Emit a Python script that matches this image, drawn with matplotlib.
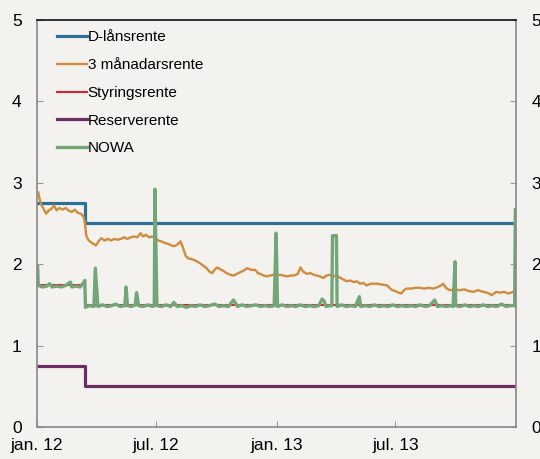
import pandas as pd
import numpy as np
import matplotlib
matplotlib.use("Agg")
import matplotlib.pyplot as plt

plt.rcParams['font.family'] = ['Liberation Sans', 'DejaVu Sans']

# Policy rates (step changes)
step_dates = ['2012-01-01', '2012-03-15', '2014-01-01']
d_laan = [2.75, 2.50, 2.50]
styring = [1.75, 1.50, 1.50]
reserve = [0.75, 0.50, 0.50]

# 3-month rate
nibor_dates = [
    '2012-01-03', '2012-01-05', '2012-01-07', '2012-01-11', '2012-01-15', '2012-01-19',
    '2012-01-23', '2012-01-27', '2012-01-31', '2012-02-04', '2012-02-09', '2012-02-14',
    '2012-02-18', '2012-02-23', '2012-02-28', '2012-03-03', '2012-03-08', '2012-03-12',
    '2012-03-14', '2012-03-16', '2012-03-19', '2012-03-23', '2012-03-27', '2012-03-31',
    '2012-04-04', '2012-04-08', '2012-04-13', '2012-04-18', '2012-04-23', '2012-04-28',
    '2012-05-03', '2012-05-08', '2012-05-13', '2012-05-18', '2012-05-23', '2012-05-28',
    '2012-06-02', '2012-06-07', '2012-06-11', '2012-06-15', '2012-06-20', '2012-06-25',
    '2012-06-29', '2012-07-04', '2012-07-09', '2012-07-14', '2012-07-19', '2012-07-24',
    '2012-07-28', '2012-08-02', '2012-08-07', '2012-08-11', '2012-08-15', '2012-08-19',
    '2012-08-25', '2012-08-31', '2012-09-06', '2012-09-11', '2012-09-16', '2012-09-20',
    '2012-09-24', '2012-09-28', '2012-10-02', '2012-10-06', '2012-10-11', '2012-10-16',
    '2012-10-22', '2012-10-27', '2012-11-01', '2012-11-06', '2012-11-11', '2012-11-17',
    '2012-11-23', '2012-11-29', '2012-12-03', '2012-12-07', '2012-12-12', '2012-12-17',
    '2012-12-22', '2012-12-27', '2013-01-01', '2013-01-06', '2013-01-11', '2013-01-17',
    '2013-01-22', '2013-01-27', '2013-02-02', '2013-02-06', '2013-02-10', '2013-02-16',
    '2013-02-21', '2013-02-26', '2013-03-03', '2013-03-08', '2013-03-13', '2013-03-18',
    '2013-03-23', '2013-03-28', '2013-04-03', '2013-04-08', '2013-04-13', '2013-04-18',
    '2013-04-23', '2013-04-28', '2013-05-03', '2013-05-08', '2013-05-13', '2013-05-18',
    '2013-05-25', '2013-06-03', '2013-06-10', '2013-06-18', '2013-06-22', '2013-06-26',
    '2013-07-01', '2013-07-06', '2013-07-10', '2013-07-14', '2013-07-18', '2013-07-25',
    '2013-08-01', '2013-08-07', '2013-08-14', '2013-08-21', '2013-08-28', '2013-09-04',
    '2013-09-09', '2013-09-12', '2013-09-16', '2013-09-22', '2013-09-30', '2013-10-07',
    '2013-10-14', '2013-10-21', '2013-10-28', '2013-11-04', '2013-11-12', '2013-11-18',
    '2013-11-25', '2013-12-02', '2013-12-07', '2013-12-14', '2013-12-20', '2013-12-25',
    '2013-12-31']
nibor = [
    2.88, 2.80, 2.74, 2.68, 2.62, 2.66, 2.68, 2.72, 2.66, 2.69, 2.67, 2.69,
    2.66, 2.64, 2.67, 2.63, 2.62, 2.58, 2.52, 2.36, 2.30, 2.27, 2.25, 2.23,
    2.28, 2.32, 2.29, 2.31, 2.29, 2.31, 2.30, 2.31, 2.33, 2.31, 2.33, 2.34,
    2.33, 2.38, 2.34, 2.36, 2.33, 2.34, 2.32, 2.29, 2.28, 2.26, 2.25, 2.23,
    2.22, 2.24, 2.28, 2.20, 2.10, 2.07, 2.06, 2.04, 2.01, 1.98, 1.95, 1.91,
    1.89, 1.93, 1.96, 1.94, 1.92, 1.89, 1.87, 1.86, 1.88, 1.90, 1.92, 1.95,
    1.93, 1.93, 1.89, 1.88, 1.86, 1.85, 1.86, 1.87, 1.86, 1.87, 1.86, 1.85,
    1.86, 1.86, 1.88, 1.96, 1.91, 1.88, 1.89, 1.87, 1.86, 1.85, 1.83, 1.86,
    1.87, 1.85, 1.86, 1.83, 1.81, 1.79, 1.80, 1.78, 1.79, 1.76, 1.77, 1.74,
    1.76, 1.76, 1.75, 1.74, 1.71, 1.68, 1.67, 1.65, 1.64, 1.68, 1.70, 1.70,
    1.71, 1.71, 1.70, 1.71, 1.70, 1.72, 1.74, 1.76, 1.71, 1.68, 1.69, 1.68,
    1.69, 1.67, 1.66, 1.68, 1.66, 1.65, 1.62, 1.66, 1.65, 1.66, 1.64, 1.65,
    1.67]

# NOWA overnight rate
nowa_dates = [
    '2012-01-02', '2012-01-03', '2012-01-09', '2012-01-16', '2012-01-20', '2012-01-24',
    '2012-01-31', '2012-02-07', '2012-02-14', '2012-02-21', '2012-02-23', '2012-03-01',
    '2012-03-07', '2012-03-12', '2012-03-14', '2012-03-15', '2012-03-21', '2012-03-28',
    '2012-03-30', '2012-04-03', '2012-04-10', '2012-04-17', '2012-04-24', '2012-04-30',
    '2012-05-07', '2012-05-14', '2012-05-16', '2012-05-18', '2012-05-24', '2012-05-30',
    '2012-06-01', '2012-06-04', '2012-06-11', '2012-06-18', '2012-06-25', '2012-06-28',
    '2012-06-29', '2012-07-02', '2012-07-09', '2012-07-16', '2012-07-23', '2012-07-28',
    '2012-08-02', '2012-08-09', '2012-08-16', '2012-08-23', '2012-08-30', '2012-09-06',
    '2012-09-13', '2012-09-20', '2012-09-28', '2012-10-05', '2012-10-12', '2012-10-19',
    '2012-10-27', '2012-11-02', '2012-11-09', '2012-11-16', '2012-11-23', '2012-11-30',
    '2012-12-07', '2012-12-14', '2012-12-21', '2012-12-28', '2012-12-31', '2013-01-02',
    '2013-01-09', '2013-01-16', '2013-01-23', '2013-01-30', '2013-02-06', '2013-02-13',
    '2013-02-20', '2013-02-27', '2013-03-06', '2013-03-11', '2013-03-14', '2013-03-17',
    '2013-03-24', '2013-03-26', '2013-03-27', '2013-04-02', '2013-04-03', '2013-04-10',
    '2013-04-17', '2013-04-24', '2013-05-01', '2013-05-07', '2013-05-09', '2013-05-16',
    '2013-05-23', '2013-05-30', '2013-06-06', '2013-06-13', '2013-06-20', '2013-06-27',
    '2013-07-04', '2013-07-11', '2013-07-18', '2013-07-25', '2013-08-01', '2013-08-08',
    '2013-08-15', '2013-08-22', '2013-08-30', '2013-09-03', '2013-09-10', '2013-09-17',
    '2013-09-24', '2013-09-27', '2013-09-30', '2013-10-01', '2013-10-08', '2013-10-15',
    '2013-10-22', '2013-10-29', '2013-11-05', '2013-11-12', '2013-11-19', '2013-11-26',
    '2013-12-03', '2013-12-10', '2013-12-17', '2013-12-24', '2013-12-30', '2013-12-31']
nowa = [
    1.97, 1.74, 1.72, 1.73, 1.76, 1.72, 1.73, 1.72, 1.74, 1.78, 1.72, 1.73,
    1.72, 1.77, 1.80, 1.47, 1.49, 1.48, 1.95, 1.48, 1.50, 1.48, 1.49, 1.51,
    1.48, 1.49, 1.72, 1.49, 1.48, 1.50, 1.65, 1.49, 1.48, 1.50, 1.48, 1.49,
    2.92, 1.49, 1.48, 1.50, 1.48, 1.53, 1.48, 1.49, 1.47, 1.49, 1.48, 1.50,
    1.48, 1.49, 1.51, 1.48, 1.49, 1.48, 1.56, 1.48, 1.50, 1.48, 1.49, 1.50,
    1.48, 1.49, 1.48, 1.49, 2.38, 1.48, 1.50, 1.48, 1.49, 1.48, 1.50, 1.48,
    1.49, 1.48, 1.49, 1.57, 1.55, 1.48, 1.49, 1.49, 2.35, 2.35, 1.48, 1.50,
    1.48, 1.49, 1.48, 1.60, 1.48, 1.49, 1.48, 1.50, 1.48, 1.49, 1.48, 1.50,
    1.48, 1.49, 1.48, 1.49, 1.48, 1.50, 1.48, 1.49, 1.56, 1.48, 1.49, 1.48,
    1.49, 1.48, 2.03, 1.49, 1.48, 1.50, 1.48, 1.49, 1.48, 1.50, 1.48, 1.49,
    1.48, 1.51, 1.48, 1.49, 1.49, 2.67]

bg = '#f4f2ee'
fig = plt.figure(figsize=(5.4, 4.59), dpi=100, facecolor=bg)
ax = fig.add_axes([0.0685, 0.0697, 0.887, 0.887], facecolor=bg)

sd = pd.to_datetime(step_dates)
ax.plot(sd, d_laan, drawstyle='steps-post', color='#2f6f96', lw=2.3, label='D-lånsrente')
ax.plot(pd.to_datetime(nibor_dates), nibor, color='#d18b3d', lw=1.7, label='3 månadarsrente')
ax.plot(sd, styring, drawstyle='steps-post', color='#d7262f', lw=1.5, label='Styringsrente')
ax.plot(sd, reserve, drawstyle='steps-post', color='#6c2d62', lw=2.3, label='Reserverente')
ax.plot(pd.to_datetime(nowa_dates), nowa, color='#72a679', lw=2.4, label='NOWA')

ax.set_xlim(pd.Timestamp('2012-01-01'), pd.Timestamp('2014-01-01'))
ax.set_ylim(0, 5)
ax.set_yticks([0, 1, 2, 3, 4, 5])
xt = pd.to_datetime(['2012-01-01', '2012-07-01', '2013-01-01', '2013-07-01'])
ax.set_xticks(xt)
ax.set_xticklabels(['jan. 12', 'jul. 12', 'jan. 13', 'jul. 13'])

ax.tick_params(axis='y', direction='in', length=4, color='#999999', labelsize=12.5,
               left=True, right=True, labelleft=True, labelright=True, pad=11)
ax.tick_params(axis='x', direction='in', length=4, color='#999999', labelsize=12.5, pad=8)

for side in ['left', 'right', 'bottom']:
    ax.spines[side].set_color('#888888')
    ax.spines[side].set_linewidth(1.2)
ax.spines['top'].set_color('#111111')
ax.spines['top'].set_linewidth(1.2)

ax.legend(loc='upper left', bbox_to_anchor=(0.013, 1.008), frameon=False, fontsize=11,
          handlelength=1.95, handletextpad=0.05, labelspacing=0.9)

fig.savefig('out.png', dpi=100, facecolor=bg)
